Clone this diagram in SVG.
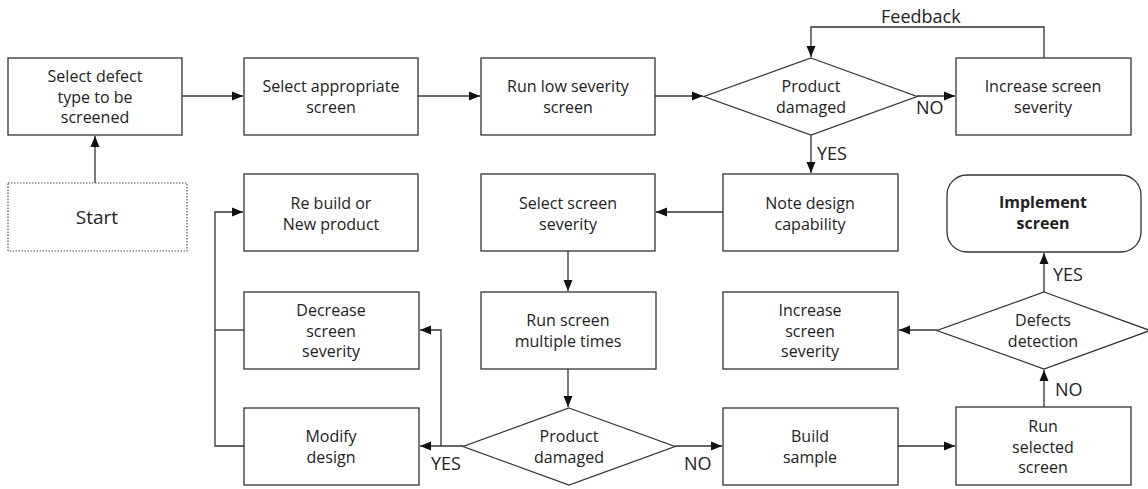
<svg xmlns="http://www.w3.org/2000/svg" width="1148" height="489" viewBox="0 0 1148 489">
<style>
.box{fill:#fff;stroke:#333;stroke-width:1.3}
.start{fill:#fff;stroke:#555;stroke-width:1.2;stroke-dasharray:1.5 1.5}
.t{font-family:"Open Sans","Noto Sans",sans-serif;font-size:16px;fill:#222;text-anchor:middle;dominant-baseline:central}
.b{font-weight:bold}
.lbl{font-family:"Open Sans","Noto Sans",sans-serif;font-size:18px;fill:#222;dominant-baseline:central}
.c{fill:none;stroke:#333;stroke-width:1.3}
</style>
<defs>
<marker id="ah" markerUnits="userSpaceOnUse" markerWidth="12" markerHeight="10" refX="11" refY="5" orient="auto">
<path d="M0,0.5 L11,5 L0,9.5 Z" fill="#111"/>
</marker>
</defs>

<g id="connectors">
<path class="c" d="M95,183 V136" marker-end="url(#ah)"/>
<path class="c" d="M182,96 H243" marker-end="url(#ah)"/>
<path class="c" d="M418,96 H480" marker-end="url(#ah)"/>
<path class="c" d="M655,96 H703" marker-end="url(#ah)"/>
<path class="c" d="M917,96 H955" marker-end="url(#ah)"/>
<path class="c" d="M1044,58 V27 H811 V57" marker-end="url(#ah)"/>
<path class="c" d="M811,135 V173" marker-end="url(#ah)"/>
<path class="c" d="M723,212 H656" marker-end="url(#ah)"/>
<path class="c" d="M568,251 V291" marker-end="url(#ah)"/>
<path class="c" d="M568,369 V407" marker-end="url(#ah)"/>
<path class="c" d="M463,446 H420" marker-end="url(#ah)"/>
<path class="c" d="M441,446 V330 H420" marker-end="url(#ah)"/>
<path class="c" d="M244,446 H215 V212 H243" marker-end="url(#ah)"/>
<path class="c" d="M244,330 H215"/>
<path class="c" d="M675,446 H722" marker-end="url(#ah)"/>
<path class="c" d="M898,446 H955" marker-end="url(#ah)"/>
<path class="c" d="M1044,407 V370" marker-end="url(#ah)"/>
<path class="c" d="M937,330 H899" marker-end="url(#ah)"/>
<path class="c" d="M1044,292 V253" marker-end="url(#ah)"/>
<text class="lbl" x="881" y="16">Feedback</text>
<text class="lbl" x="916" y="107">NO</text>
<text class="lbl" x="817" y="153">YES</text>
<text class="lbl" x="431" y="463">YES</text>
<text class="lbl" x="684" y="463">NO</text>
<text class="lbl" x="1055" y="389">NO</text>
<text class="lbl" x="1053" y="274">YES</text>
</g>

<g id="select-defect">
<rect class="box" x="8" y="58" width="174" height="77"/>
<text class="t" x="95" y="76">Select defect</text>
<text class="t" x="95" y="97">type to be</text>
<text class="t" x="95" y="117">screened</text>
</g>
<g id="start">
<rect class="start" x="8" y="183" width="179" height="68"/>
<text class="t" x="97" y="217" style="font-size:19px">Start</text>
</g>
<g id="select-appropriate">
<rect class="box" x="244" y="58" width="174" height="77"/>
<text class="t" x="331" y="86">Select appropriate</text>
<text class="t" x="331" y="107">screen</text>
</g>
<g id="run-low">
<rect class="box" x="481" y="58" width="174" height="77"/>
<text class="t" x="568" y="86">Run low severity</text>
<text class="t" x="568" y="107">screen</text>
</g>
<g id="product-damaged-1">
<polygon class="box" points="811,58 917,96.5 811,135 704,96.5"/>
<text class="t" x="811" y="86">Product</text>
<text class="t" x="811" y="107">damaged</text>
</g>
<g id="increase-top">
<rect class="box" x="956" y="58" width="175" height="77"/>
<text class="t" x="1043" y="86">Increase screen</text>
<text class="t" x="1043" y="107">severity</text>
</g>
<g id="rebuild">
<rect class="box" x="244" y="174" width="174" height="77"/>
<text class="t" x="331" y="203">Re build or</text>
<text class="t" x="331" y="224">New product</text>
</g>
<g id="select-severity">
<rect class="box" x="481" y="174" width="174" height="77"/>
<text class="t" x="568" y="203">Select screen</text>
<text class="t" x="568" y="224">severity</text>
</g>
<g id="note-design">
<rect class="box" x="723" y="174" width="175" height="77"/>
<text class="t" x="810" y="203">Note design</text>
<text class="t" x="810" y="224">capability</text>
</g>
<g id="implement">
<rect class="box" x="947" y="175" width="194" height="77" rx="20" ry="20"/>
<text class="t b" x="1043" y="202">Implement</text>
<text class="t b" x="1043" y="223">screen</text>
</g>
<g id="decrease">
<rect class="box" x="244" y="292" width="175" height="77"/>
<text class="t" x="331" y="310">Decrease</text>
<text class="t" x="331" y="331">screen</text>
<text class="t" x="331" y="351">severity</text>
</g>
<g id="run-multiple">
<rect class="box" x="481" y="292" width="175" height="77"/>
<text class="t" x="568" y="320">Run screen</text>
<text class="t" x="568" y="341">multiple times</text>
</g>
<g id="increase-mid">
<rect class="box" x="723" y="292" width="175" height="77"/>
<text class="t" x="810" y="310">Increase</text>
<text class="t" x="810" y="331">screen</text>
<text class="t" x="810" y="351">severity</text>
</g>
<g id="defects-detection">
<polygon class="box" points="1044,292 1150,330.5 1044,369 937,330.5"/>
<text class="t" x="1043" y="320">Defects</text>
<text class="t" x="1043" y="341">detection</text>
</g>
<g id="modify">
<rect class="box" x="244" y="408" width="175" height="77"/>
<text class="t" x="331" y="436">Modify</text>
<text class="t" x="331" y="457">design</text>
</g>
<g id="product-damaged-2">
<polygon class="box" points="569,408 675,446.5 569,485 463,446.5"/>
<text class="t" x="569" y="436">Product</text>
<text class="t" x="569" y="457">damaged</text>
</g>
<g id="build-sample">
<rect class="box" x="723" y="408" width="175" height="77"/>
<text class="t" x="810" y="436">Build</text>
<text class="t" x="810" y="457">sample</text>
</g>
<g id="run-selected">
<rect class="box" x="956" y="407" width="175" height="78"/>
<text class="t" x="1043" y="426">Run</text>
<text class="t" x="1043" y="447">selected</text>
<text class="t" x="1043" y="467">screen</text>
</g>
</svg>
